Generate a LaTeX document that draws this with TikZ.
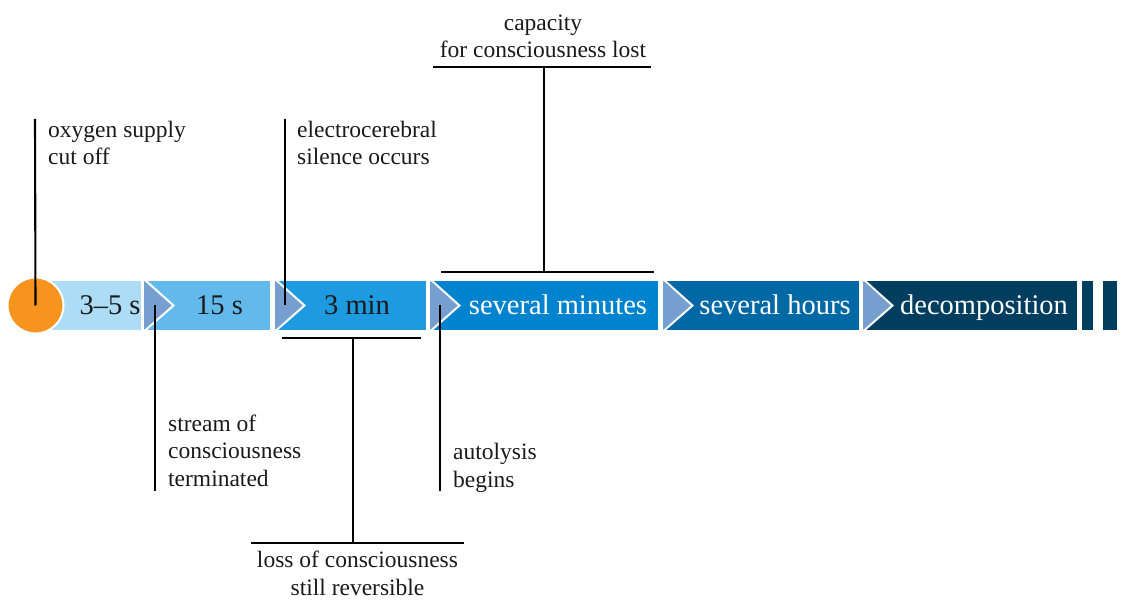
\documentclass[tikz,border=0pt]{standalone}
\usepackage{fontspec}
\setmainfont{Liberation Serif}
\definecolor{segA}{HTML}{ADDCF6}
\definecolor{segB}{HTML}{62B9EC}
\definecolor{segC}{HTML}{1E9AE0}
\definecolor{segD}{HTML}{0083CF}
\definecolor{segE}{HTML}{0069A5}
\definecolor{segF}{HTML}{003D5F}
\definecolor{chevblue}{HTML}{769FCF}
\definecolor{dotorange}{HTML}{F7941D}
\definecolor{darktext}{HTML}{1A1A1A}
\begin{document}
\begin{tikzpicture}[x=1pt,y=-1pt,
  seg/.style={draw=white,line width=1.2pt},
  chevfill/.style={fill=chevblue},
  chevedge/.style={draw=white,line width=2pt,line join=miter},
  lbl/.style={font=\fontsize{23.5}{27.5}\selectfont,align=left,inner sep=0pt,anchor=base west,text=darktext},
  clbl/.style={font=\fontsize{23.5}{27.5}\selectfont,align=center,inner sep=0pt,anchor=base,text=darktext},
  bartxt/.style={font=\fontsize{28.5}{30}\selectfont,inner sep=0pt,anchor=base},
  ln/.style={line width=2.1pt,black}]
\useasboundingbox (0,0) rectangle (1129,601);
% segments
\path[seg,fill=segA] (50,280) rectangle (141.5,331);
\path[seg,fill=segB] (144,280) rectangle (271,331);
\path[seg,fill=segC] (275,280) rectangle (427,331);
\path[seg,fill=segD] (430,280) rectangle (659,331);
\path[seg,fill=segE] (663,280) rectangle (860,331);
\path[seg,fill=segF] (863,280) rectangle (1078,331);
\path[seg,fill=segF] (1081,280) rectangle (1094,331);
\path[seg,fill=segF] (1102,280) rectangle (1118,331);
% chevrons
\foreach \cx in {144,275,430,663,863}{
  \fill[chevfill] (\cx,281) -- (\cx+28.5,305.5) -- (\cx,330) -- cycle;
  \draw[chevedge] (\cx+1,280) -- (\cx+29.5,305.5) -- (\cx+0.5,331);
}
% circle
\node[circle,fill=dotorange,draw=white,line width=2pt,minimum size=56pt,inner sep=0pt] (dot) at (35.5,305.5) {};
% coordinates
\coordinate (oxyTop) at (35,119);
\coordinate (elecTop) at (285,119);
\coordinate (elecBot) at (285,305);
\coordinate (capL) at (433,67);
\coordinate (capR) at (651,67);
\coordinate (capM) at (544,67);
\coordinate (capMb) at (544,272);
\coordinate (capbL) at (441,272);
\coordinate (capbR) at (654,272);
\coordinate (strTop) at (155,305);
\coordinate (strBot) at (155,491);
\coordinate (autTop) at (440,305);
\coordinate (autBot) at (440,491);
\coordinate (minL) at (282,338);
\coordinate (minR) at (421,338);
\coordinate (minM) at (353,338);
\coordinate (minMb) at (353,543);
\coordinate (lossL) at (251,543);
\coordinate (lossR) at (464,543);
% connectors
\draw[ln] (oxyTop) -- (dot.center);
\draw[ln] (elecTop) -- (elecBot);
\draw[ln] (capL) -- (capR);
\draw[ln] (capM) -- (capMb);
\draw[ln] (capbL) -- (capbR);
\draw[ln] (strTop) -- (strBot);
\draw[ln] (autTop) -- (autBot);
\draw[ln] (minL) -- (minR);
\draw[ln] (minM) -- (minMb);
\draw[ln] (lossL) -- (lossR);
% bar texts
\node[bartxt,text=darktext] (t1) at (110,315) {3–5 s};
\node[bartxt,text=darktext] (t2) at (219.5,315) {15 s};
\node[bartxt,text=darktext] (t3) at (357,315) {3 min};
\node[bartxt,text=white] (t4) at (558,315) {several minutes};
\node[bartxt,text=white] (t5) at (775,315) {several hours};
\node[bartxt,text=white] (t6) at (984,315) {decomposition};
% labels (base anchor = baseline of last line)
\node[lbl] (oxy) at (48,165) {oxygen supply\\cut off};
\node[lbl] (elec) at (297,165) {electrocerebral\\silence occurs};
\node[clbl] (cap) at (543,58) {capacity\\for consciousness lost};
\node[lbl] (str) at (168,486) {stream of\\consciousness\\terminated};
\node[lbl] (aut) at (453,487) {autolysis\\begins};
\node[clbl] (loss) at (357.5,595) {loss of consciousness\\still reversible};
\end{tikzpicture}
\end{document}
